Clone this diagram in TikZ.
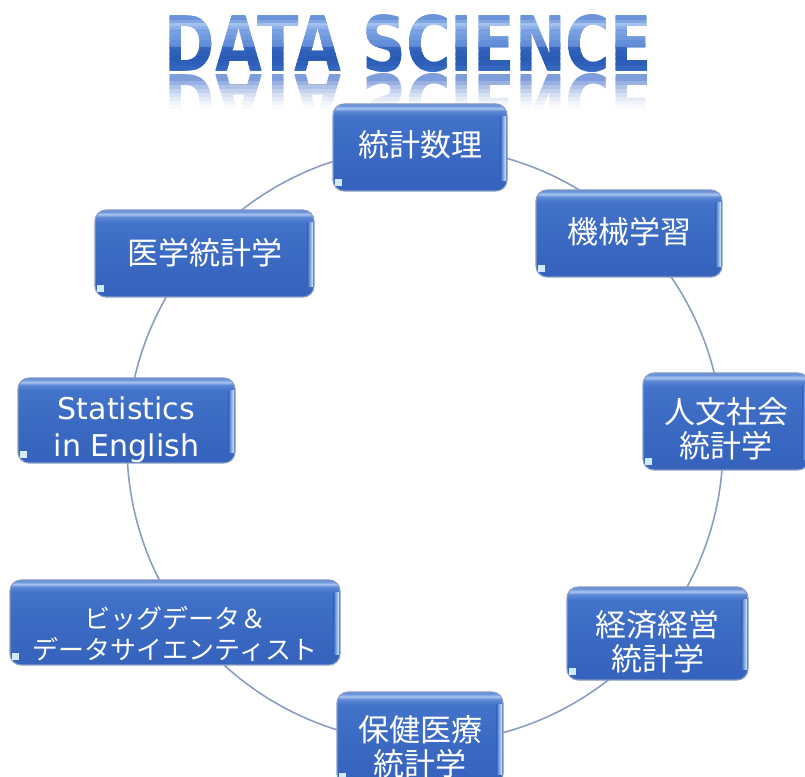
\documentclass[tikz,border=0pt]{standalone}
\usepackage{fontspec}
\setmainfont{DejaVu Sans}
\newfontfamily\jpfont{Noto Sans CJK JP}
\newfontfamily\latinfont{DejaVu Sans}
\newfontfamily\titlefont{DejaVu Sans Bold}
\usetikzlibrary{calc}

% palette
\definecolor{bxbot}{HTML}{3462BC}
\definecolor{bxmid}{HTML}{3D6CC5}
\definecolor{bxup}{HTML}{4473CA}
\definecolor{bxband}{HTML}{5D89D6}
\definecolor{bxhi}{HTML}{AAC6F0}
\definecolor{bxtop}{HTML}{6C95DC}
\definecolor{bxline}{HTML}{8A9CC2}
\definecolor{edgehi}{HTML}{D4F0FD}
\definecolor{cornerhi}{HTML}{D2EBFB}
\definecolor{ringcol}{HTML}{8C9DC2}
\definecolor{ttbot}{HTML}{3C6EC6}
\definecolor{ttdark}{HTML}{2A5BB5}
\definecolor{ttmid}{HTML}{3565BE}
\definecolor{ttlow}{HTML}{5C88D5}
\definecolor{ttup}{HTML}{79A1E2}
\definecolor{tthi}{HTML}{A3C1EF}
\definecolor{tttop}{HTML}{6B94DA}
\definecolor{reflblue}{HTML}{7E9EDB}

% glossy box fill: bottom -> top
\pgfdeclareverticalshading{boxshade}{100bp}{%
  color(0bp)=(bxbot); color(25bp)=(bxbot); color(55bp)=(bxmid);
  color(68bp)=(bxup); color(71bp)=(bxband); color(72.5bp)=(bxhi);
  color(74bp)=(bxtop); color(75bp)=(bxband); color(100bp)=(bxband)}

\newcommand\titletext{\resizebox{487pt}{57pt}{\titlefont DATA SCIENCE}}

\tikzset{
  gbox/.style={draw=bxline, line width=1.1pt, rounded corners=11pt,
    shading=boxshade, inner sep=0pt},
  jplabel/.style={text=white, align=center, inner sep=0pt,
    font=\jpfont\fontsize{31}{34}\selectfont},
  smalljp/.style={text=white, align=center, inner sep=0pt,
    font=\jpfont\fontsize{26}{31}\selectfont},
  enlabel/.style={text=white, align=center, inner sep=0pt,
    font=\latinfont\fontsize{30}{37}\selectfont},
  ring/.style={draw=ringcol, line width=1.6pt},
  titlebase/.style={inner sep=0pt, anchor=base}
}

% box with edge highlight and corner glint
\newcommand\glossbox[5]{%
  \node[gbox, minimum width=#4pt, minimum height=#5pt] (#1) at (#2,#3) {};
  \shade[left color=bxmid, right color=edgehi]
    ($(#1.north east)+(-7,-13)$) rectangle ($(#1.south east)+(-1.6,11)$);
  \fill[cornerhi]
    ($(#1.south west)+(2.5,6)$) rectangle ($(#1.south west)+(10,13)$);
}

\begin{document}
\begin{tikzpicture}[x=1pt,y=1pt]
\useasboundingbox (0,0) rectangle (805,776);
\fill[white] (0,0) rectangle (805,776);

% title letters, coloured band by band (bottom to top, bands overlap)
\coordinate (titlebl) at (408.5,704);
\foreach \ya/\yb/\c [count=\k] in {
    0/4/ttbot, 4/8/ttbot!60!ttdark, 8/13/ttbot!25!ttdark, 13/18/ttdark,
    18/24/ttdark!50!ttmid, 24/27/ttmid, 27/29/ttlow, 29/34/ttlow!70!ttup,
    34/39/ttlow!35!ttup, 39/45/ttup, 45/48/ttup!50!tthi, 48/51/tthi,
    51/54/tthi!40!tttop, 54/60/tttop}{
  \begin{scope}
    \clip (150,{704+\ya-1.2}) rectangle (670,{704+\yb+1.2});
    \node[titlebase, text=\c] (title\k) at (titlebl) {\titletext};
  \end{scope}
}

% mirrored reflection fading into the white page (drawn faint to strong)
\coordinate (reflbl) at (408.5,701);
\foreach \ya/\yb/\c [count=\k] in {
    28/32/reflblue!5, 24/28/reflblue!11, 20/24/reflblue!20,
    16/20/reflblue!32, 12/16/reflblue!46, 8/12/reflblue!62,
    4/8/reflblue!80, 0/4/reflblue}{
  \begin{scope}
    \clip (150,{701-\ya+1.2}) rectangle (670,{701-\yb-1.2});
    \node[titlebase, yscale=-1, transform shape, text=\c] (refl\k)
      at (reflbl) {\titletext};
  \end{scope}
}

% ring linking the topics
\coordinate (ringc) at (425,331);
\draw[ring] (ringc) circle[radius=298];

% topic boxes
\glossbox{s1}{420}{628.5}{174}{87}
\node[jplabel] (t1) at (420,631) {統計数理};

\glossbox{s2}{629}{542.5}{186}{87}
\node[jplabel] (t2) at (629,544) {機械学習};

\glossbox{s3}{204.5}{522.5}{219}{87}
\node[jplabel] (t3) at (204.5,523) {医学統計学};

\glossbox{s4}{126.5}{355.5}{217}{85}
\node[enlabel] (t4) at (126.5,346) {Statistics\\in English};

\glossbox{s5}{726}{354.5}{166}{97}
\node[jplabel] (t5) at (726,347) {人文社会\\統計学};

\glossbox{s6}{175}{153.5}{330}{85}
\node[smalljp] (t6) at (175,142) {ビッグデータ＆\\データサイエンティスト};

\glossbox{s7}{657.5}{142.5}{181}{93}
\node[jplabel] (t7) at (657.5,134) {経済経営\\統計学};

\glossbox{s8}{420}{37.5}{166}{93}
\node[jplabel] (t8) at (420,29) {保健医療\\統計学};
\end{tikzpicture}
\end{document}
